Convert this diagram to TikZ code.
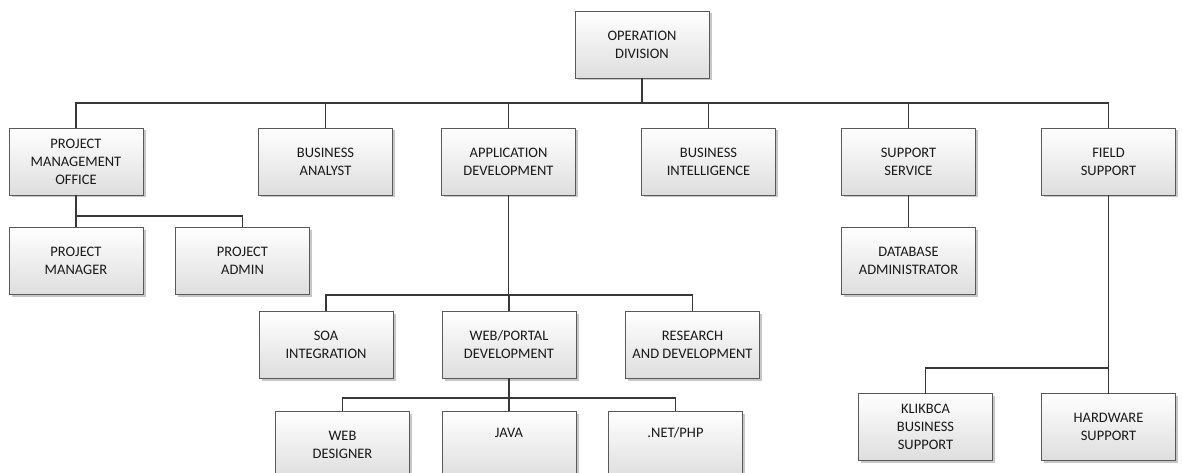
\documentclass[tikz,border=0pt]{standalone}
\usepackage{fontspec}
\setmainfont{Carlito}
\usetikzlibrary{shadows}
\begin{document}
\begin{tikzpicture}[x=1pt,y=-1pt,
  unit/.style={draw=black!65, line width=0.7pt, top color=white, bottom color=black!13,
    minimum width=134pt, minimum height=67pt, inner sep=0pt, outer sep=0pt,
    align=center, text=black!90,
    font=\fontsize{14.5}{18}\selectfont,
    drop shadow={shadow xshift=2.5pt, shadow yshift=-2.5pt, fill=black!22, opacity=1}},
  link/.style={draw=black!78, line width=1.9pt}]
\useasboundingbox (0,0) rectangle (1183,473);
\begin{scope}
\clip (0,0) rectangle (1183,473);

% head
\node[unit] (op) at (642,44.5) {OPERATION\\DIVISION};

% first level units
\node[unit] (pmo) at (76,161.5)    {PROJECT\\MANAGEMENT\\OFFICE};
\node[unit] (ba)  at (325.5,161.5) {BUSINESS\\ANALYST};
\node[unit] (ad)  at (508.5,161.5) {APPLICATION\\DEVELOPMENT};
\node[unit] (bi)  at (708.5,161.5) {BUSINESS\\INTELLIGENCE};
\node[unit] (ss)  at (908.5,161.5) {SUPPORT\\SERVICE};
\node[unit] (fs)  at (1108.5,161.5){FIELD\\SUPPORT};

% project management office
\node[unit] (pm) at (76,261)    {PROJECT\\MANAGER};
\node[unit] (pa) at (242.5,261) {PROJECT\\ADMIN};

% support service
\node[unit] (db) at (908.5,261) {DATABASE\\ADMINISTRATOR};

% application development
\node[unit] (soa) at (326,344.5)   {SOA\\INTEGRATION};
\node[unit] (web) at (509,344.5)   {WEB/PORTAL\\DEVELOPMENT};
\node[unit] (rnd) at (692.5,344.5) {RESEARCH\\AND DEVELOPMENT};

% web/portal development
\node[unit] (wd)   at (342.5,444.5) {WEB\\DESIGNER};
\node[unit] (java) at (509,444.5)   {JAVA\\\strut};
\node[unit] (net)  at (675.5,444.5) {.NET/PHP\\\strut};

% field support
\node[unit] (klik) at (925.5,427)  {KLIKBCA\\BUSINESS\\SUPPORT};
\node[unit] (hw)   at (1108.5,427) {HARDWARE\\SUPPORT};

% reporting lines
\foreach \c in {pmo,ba,ad,bi,ss,fs}
  \draw[link] (op.south) -- ++(0,25) -| (\c.north);
\foreach \c in {pm,pa}
  \draw[link] (pmo.south) -- ++(0,21) -| (\c.north);
\draw[link] (ss.south) -- (db.north);
\foreach \c in {soa,web,rnd}
  \draw[link] (ad.south) -- ++(0,100) -| (\c.north);
\foreach \c in {wd,java,net}
  \draw[link] (web.south) -- ++(0,20) -| (\c.north);
\foreach \c in {klik,hw}
  \draw[link] (fs.south) -- ++(0,173) -| (\c.north);
\end{scope}
\end{tikzpicture}
\end{document}
